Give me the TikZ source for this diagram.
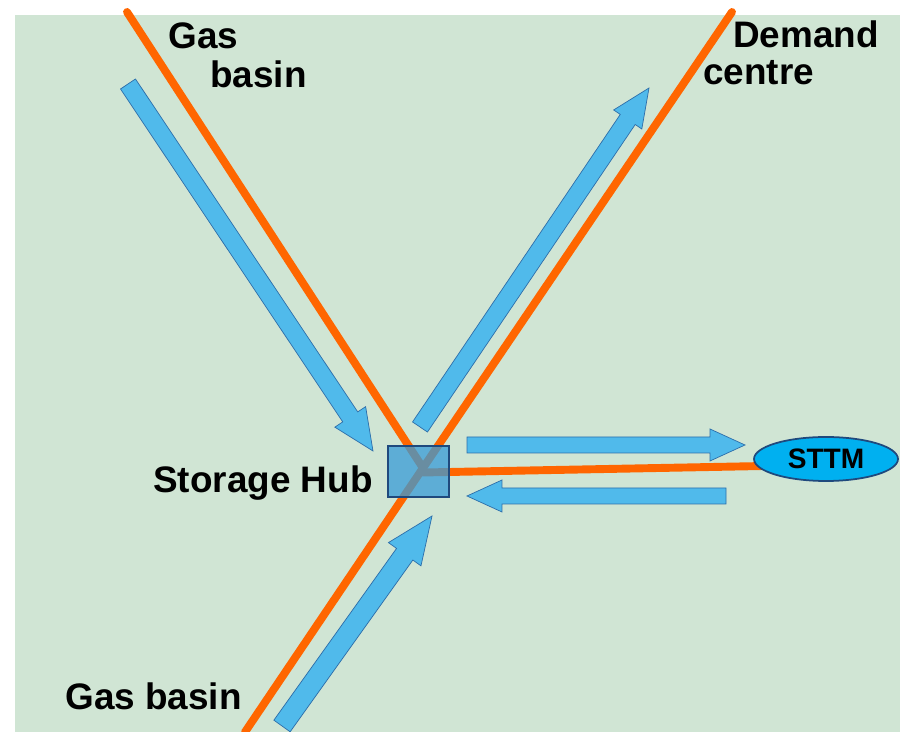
\documentclass[tikz,border=0pt]{standalone}
\usepackage{fontspec}
\setmainfont{Liberation Sans}
\usepackage{tikz}
\usetikzlibrary{calc,shapes.geometric}
\usepackage{xcolor}

\definecolor{bgreen}{RGB}{208,229,212}
\definecolor{pipe}{RGB}{255,102,0}
\definecolor{flowblue}{RGB}{80,186,235}
\definecolor{flowedge}{RGB}{45,110,170}
\definecolor{hubblue}{RGB}{55,155,215}
\definecolor{darkedge}{RGB}{31,73,125}
\definecolor{sttmblue}{RGB}{0,176,240}

% block arrow: tail, tip, half shaft, half head, head length
\newcommand{\flowarrow}[5]{%
  \coordinate (h) at ($(#2)!#5!(#1)$);
  \filldraw[flow] ($(#1)!#3!90:(#2)$) -- ($(h)!#3!90:(#2)$) -- ($(h)!#4!90:(#2)$)
    -- (#2) -- ($(h)!#4!-90:(#2)$) -- ($(h)!#3!-90:(#2)$) -- ($(#1)!#3!-90:(#2)$) -- cycle;}

\begin{document}
\begin{tikzpicture}[x=0.02cm, y=-0.02cm]
\tikzstyle{flow} = [fill=flowblue, draw=flowedge, line width=.4pt, line join=miter]
\tikzstyle{pipeline} = [pipe, line width=4.5pt, line cap=round]
\tikzstyle{label} = [anchor=base west, inner sep=0pt, font=\bfseries\fontsize{21}{25}\selectfont]
\useasboundingbox (0,0) rectangle (900,732);
\fill[bgreen] (15,15) rectangle (900,732);
% pipelines
\coordinate (gasA) at (127,12);
\coordinate (dem) at (732,12);
\coordinate (gasB) at (245,732);
\coordinate (j) at (423,468);
\coordinate (je) at (423,472.5);
\coordinate (se) at (790,465.5);
\draw[pipeline] (gasA) -- (j) -- (dem);
\draw[pipeline] (j) -- (gasB);
\draw[pipeline] (je) -- (se);
% hub and market
\node[rectangle, fill=hubblue, fill opacity=.75, draw=darkedge, line width=1pt,
  minimum width=1.22cm, minimum height=1.02cm] (hub) at (418.5,471.5) {};
\node[ellipse, fill=sttmblue, draw=darkedge, line width=1pt, minimum width=2.88cm,
  minimum height=.88cm, inner sep=0pt, font=\bfseries\fontsize{16}{19}\selectfont] (sttm) at (826,459) {STTM};
% flows
\coordinate (t1) at (128,84);  \coordinate (p1) at (373,451);
\coordinate (t2) at (420,427); \coordinate (p2) at (649,88);
\coordinate (t3) at (282,726); \coordinate (p3) at (432,516);
\coordinate (t4) at (467,445); \coordinate (p4) at (745,445);
\coordinate (t5) at (726,496); \coordinate (p5) at (467,496);
\flowarrow{t1}{p1}{.18cm}{.37cm}{.82cm}
\flowarrow{t2}{p2}{.18cm}{.34cm}{.76cm}
\flowarrow{t3}{p3}{.2cm}{.4cm}{.94cm}
\flowarrow{t4}{p4}{.16cm}{.32cm}{.7cm}
\flowarrow{t5}{p5}{.16cm}{.32cm}{.7cm}
% labels
\node[label] (gas1) at (168,49) {Gas};
\node[label] (basin1) at (210,88) {basin};
\node[label] (demand) at (733,48) {Demand};
\node[label] (centre) at (703,85) {centre};
\node[label] (hubtext) at (153,493) {Storage Hub};
\node[label] (gas2) at (65,710) {Gas basin};
\end{tikzpicture}
\end{document}
